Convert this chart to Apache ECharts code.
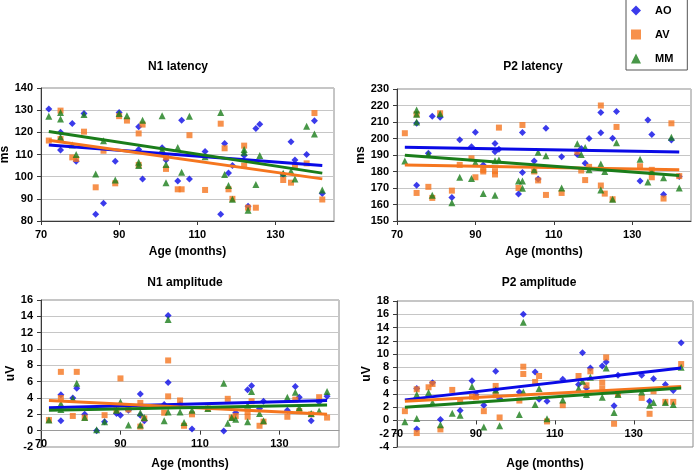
<!DOCTYPE html>
<html>
<head>
<meta charset="utf-8">
<script src="https://cdn.jsdelivr.net/npm/echarts@6/dist/echarts.min.js"></script>
<style>
  html, body { margin: 0; padding: 0; background: #fff; }
  #chart { width: 697px; height: 470px; }
</style>
</head>
<body>
<div id="chart"></div>
<script>
// [age, value] pairs
const n1LatAO = [[72,130.5],[75,120],[75,112],[78,124],[79,107],[81,128.5],[84,83],[86,88],[89,107],[90,129],[95,122.5],[95,112.3],[96,99],[101,113],[102,107.5],[105,98],[106,125.5],[108,99],[112,111.3],[116,83],[117,115],[118,101.6],[119,105],[122,109.5],[123,86.7],[125,121.7],[126,123.7],[132,101],[134,115.7],[135,107.5],[138,110],[140,125.2],[142,92.4]];
const n1LatAV = [[72,116.3],[75,129.8],[75,117],[78,108.7],[79,108],[81,120.3],[84,95.2],[86,111.7],[89,97],[90,127.3],[92,125.3],[95,119.5],[95,105.3],[96,123.5],[102,108.7],[102,103.5],[105,94.3],[106,94.3],[108,118.7],[112,94],[116,123.9],[117,112.8],[118,94.3],[119,90],[122,114],[122,105],[123,86],[125,86],[132,98.5],[134,97.3],[135,104.6],[138,106],[140,128.7],[142,89.7]];
const n1LatMM = [[72,127.2],[75,129],[75,126],[75,117.8],[78,114.3],[79,110],[81,128],[84,101.2],[86,116.2],[89,98.5],[90,128.5],[92,127.5],[95,106.5],[95,105],[96,125.5],[101,127.5],[101,112.3],[102,105.5],[102,97.2],[105,113.2],[106,102],[108,127.2],[112,109],[116,129],[117,101],[118,96],[119,89.8],[122,112.2],[122,111],[123,84.8],[125,96.5],[126,109.5],[132,101.5],[134,102.5],[135,98.9],[138,122.8],[140,119.2],[142,94]];

const p2LatAO = [[75,209.3],[75,171.6],[78,191],[79,213.5],[81,212.9],[84,164.2],[86,199.3],[89,195],[90,203.8],[92,184],[95,197],[95,192],[96,193.5],[101,166.3],[102,203.6],[102,179.4],[105,186.3],[106,175.5],[108,206.2],[112,189],[116,190.3],[117,194],[118,185],[119,200],[122,215.8],[122,203.5],[125,200.1],[126,216.3],[132,174.2],[134,211.2],[135,202.5],[138,166],[140,199.1],[142,177]];
const p2LatAV = [[72,203.2],[75,214.7],[75,167],[78,170.7],[79,164],[81,215.3],[84,168.4],[86,184],[89,188],[90,176.5],[92,181],[92,180],[95,180.2],[95,178.2],[96,206.6],[101,170],[102,208.2],[105,180],[106,174.6],[108,165.8],[112,167],[116,192],[117,180.6],[118,174.8],[119,182.8],[122,220],[122,171.5],[123,166.6],[125,163.2],[126,207],[132,183.2],[135,181],[135,176.5],[138,163.6],[140,209.2],[142,177.2]];
const p2LatMM = [[72,186.3],[75,217.3],[75,214.7],[75,210],[78,190.5],[79,165.6],[81,215],[84,161],[86,176.5],[89,175.7],[90,185.5],[92,166.6],[95,186.5],[95,165.6],[96,187],[101,174.3],[102,174.3],[102,169.8],[105,181],[106,191.7],[108,189.6],[112,170],[116,196.8],[117,190.3],[118,194.6],[119,181],[122,184.6],[122,168.8],[123,180],[125,163.2],[126,197.5],[132,187.5],[134,173.7],[135,180],[138,176.2],[140,200.8],[142,170]];

const n1AmpAO = [[75,4.4],[75,1.2],[78,4.0],[79,5.2],[81,2.0],[84,0],[86,1.1],[89,2.1],[90,1.9],[92,2.5],[95,4.5],[95,1.9],[96,1.2],[101,3.2],[102,14.1],[102,5.9],[105,3.2],[108,0.2],[116,-0.05],[119,2.2],[122,5.0],[123,5.5],[125,2.7],[126,3.6],[132,2.5],[134,5.4],[135,4.1],[138,1.2],[140,3.5],[142,4.2]];
const n1AmpAV = [[72,1.3],[75,7.2],[75,4.0],[78,1.8],[79,7.2],[81,1.6],[86,1.9],[89,2.5],[90,6.4],[92,2.6],[95,3.4],[95,0.5],[96,1.5],[101,2.2],[102,8.6],[102,4.2],[105,3.7],[106,0.6],[108,2.0],[112,2.7],[117,3.9],[118,1.6],[119,1.8],[122,2.3],[122,1.7],[123,3.6],[125,0.6],[126,1.1],[132,1.7],[134,3.8],[135,2.4],[138,2.0],[140,4.1],[142,1.6]];
const n1AmpMM = [[72,1.3],[75,3.3],[75,2.6],[78,3.9],[79,5.8],[81,1.6],[84,0.1],[86,1.1],[89,2.5],[90,3.5],[92,0.7],[95,2.2],[95,0.7],[96,1.6],[101,1.2],[102,13.6],[102,2.3],[105,2.3],[106,1.0],[108,2.5],[112,2.7],[116,5.8],[117,0.9],[118,1.6],[119,1.4],[122,3.1],[122,1.1],[123,4.8],[125,2.1],[126,1.2],[132,4.1],[134,4.7],[135,2.8],[138,2.1],[140,2.4],[142,4.8]];

const p2AmpAO = [[75,4.8],[75,-1.3],[79,5.7],[81,0.15],[86,1.5],[89,6.0],[90,3.9],[92,2.3],[95,7.4],[95,4.6],[96,3.3],[101,4.3],[102,16.0],[105,7.3],[106,3.2],[108,2.9],[112,6.2],[116,5.4],[117,10.2],[118,4.9],[119,7.9],[122,8.2],[123,8.8],[125,2.2],[126,6.8],[132,6.8],[134,2.9],[135,6.3],[138,5.4],[140,4.5],[142,11.7]];
const p2AmpAV = [[72,1.4],[75,4.7],[75,-1.9],[78,5.0],[79,5.5],[81,-1.35],[84,4.6],[86,3.0],[89,3.6],[90,3.5],[92,1.4],[95,5.2],[95,3.8],[96,0.45],[101,3.0],[102,8.1],[102,7.0],[105,5.8],[106,6.7],[108,-0.15],[112,2.3],[116,6.7],[118,5.3],[119,7.4],[122,5.7],[122,4.8],[123,9.5],[125,-0.5],[126,4.0],[132,3.4],[134,1.0],[135,4.4],[138,2.8],[140,2.8],[142,8.5]];
const p2AmpMM = [[72,-0.2],[75,3.9],[75,0.3],[78,4.2],[79,2.7],[81,-0.65],[84,1.1],[86,0.8],[89,5.1],[92,-1.0],[95,4.6],[96,-0.8],[101,0.9],[102,14.8],[102,4.3],[105,2.4],[106,4.8],[108,0.25],[112,3.1],[116,4.8],[117,5.9],[118,3.9],[119,6.5],[122,3.5],[123,7.9],[125,1.2],[126,3.9],[132,4.3],[134,2.3],[135,2.7],[138,2.7],[140,2.4],[142,8.0]];

// linear trend lines: value at first and last age
const trendAges = [72, 142];
const n1LatTrend = { AO: [114.3, 105], AV: [116.4, 99], MM: [120.4, 101.6] };
const p2LatTrend = { AO: [194.7, 191.8], AV: [183.9, 181], MM: [189.8, 177.6] };
const n1AmpTrend = { AO: [2.8, 3.7], AV: [3.7, 2.0], MM: [2.5, 3.15] };
const p2AmpTrend = { AO: [3.1, 7.9], AV: [2.9, 5.1], MM: [2.0, 4.9] };

const ageTicks = [70, 90, 110, 130];
const groups = ['AO', 'AV', 'MM'];

const FONT = 'Liberation Sans, Arial, sans-serif';
const colors = { AO: '#0a0ae6', AV: '#f5761f', MM: '#1a7d1a' };
const symbols = { AO: 'diamond', AV: 'rect', MM: 'triangle' };
const symbolSizes = { AO: 7, AV: 6, MM: 7 };

const panels = [
  { title: 'N1 latency', yName: 'ms', min: 80, max: 140, interval: 10,
    data: { AO: n1LatAO, AV: n1LatAV, MM: n1LatMM }, trend: n1LatTrend,
    grid: { left: 41, top: 88, width: 293, height: 133 },
    titlePos: [178, 67], xNameGap: 25, yNameGap: 29 },
  { title: 'P2 latency', yName: 'ms', min: 150, max: 230, interval: 10,
    data: { AO: p2LatAO, AV: p2LatAV, MM: p2LatMM }, trend: p2LatTrend,
    grid: { left: 397, top: 89, width: 294, height: 132 },
    titlePos: [533, 67], xNameGap: 25, yNameGap: 27 },
  { title: 'N1 amplitude', yName: 'uV', min: -2, max: 16, interval: 2,
    data: { AO: n1AmpAO, AV: n1AmpAV, MM: n1AmpMM }, trend: n1AmpTrend,
    grid: { left: 41, top: 300, width: 298, height: 147 },
    titlePos: [185, 283], xNameGap: 27, yNameGap: 22 },
  { title: 'P2 amplitude', yName: 'uV', min: -4, max: 18, interval: 2,
    data: { AO: p2AmpAO, AV: p2AmpAV, MM: p2AmpMM }, trend: p2AmpTrend,
    grid: { left: 397, top: 301, width: 296, height: 146 },
    titlePos: [539, 283], xNameGap: 37, yNameGap: 22 },
];

const labelStyle = { fontFamily: FONT, fontWeight: 'bold', fontSize: 11, color: '#000' };
const nameStyle = { fontFamily: FONT, fontWeight: 'bold', fontSize: 12, color: '#000' };

const grids = [], xAxes = [], yAxes = [], series = [], graphics = [];

panels.forEach((p, i) => {
  grids.push({ ...p.grid, show: true, borderColor: '#8c8c8c', borderWidth: 1, outerBoundsMode: 'none' });

  // when the y range goes below zero, the age axis crosses at y = 0 (labels move with it)
  const crossesZero = p.min < 0;
  const zeroLift = crossesZero ? (0 - p.min) / (p.max - p.min) * p.grid.height : 0;

  xAxes.push({
    gridIndex: i, type: 'value', min: 70, max: 145, interval: 20,
    offset: -zeroLift,
    axisLine: { onZero: false, lineStyle: { color: crossesZero ? '#9a9a9a' : '#3a3a3a', width: 1 } },
    axisTick: { show: true, length: 4, customValues: ageTicks, lineStyle: { color: '#3a3a3a' } },
    axisLabel: { ...labelStyle, margin: 8, customValues: ageTicks },
    splitLine: { show: false },
    name: 'Age (months)', nameLocation: 'middle', nameGap: p.xNameGap, nameTextStyle: nameStyle,
  });

  yAxes.push({
    gridIndex: i, type: 'value', min: p.min, max: p.max, interval: p.interval,
    axisLine: { show: true, onZero: false, lineStyle: { color: '#3a3a3a', width: 1 } },
    axisTick: { show: true, length: 4, lineStyle: { color: '#3a3a3a' } },
    axisLabel: { ...labelStyle, margin: 8 },
    splitLine: { show: true, lineStyle: { color: '#c6c6c6', width: 1 } },
    name: p.yName, nameLocation: 'middle', nameGap: p.yNameGap, nameTextStyle: nameStyle,
  });

  groups.forEach((g) => {
    series.push({
      type: 'scatter', name: g, xAxisIndex: i, yAxisIndex: i,
      symbol: symbols[g], symbolSize: symbolSizes[g],
      itemStyle: { color: colors[g] },
      data: p.data[g], z: 2,
    });
  });

  groups.forEach((g) => {
    series.push({
      type: 'line', name: g + ' trend', xAxisIndex: i, yAxisIndex: i,
      data: trendAges.map((a, k) => [a, p.trend[g][k]]),
      symbol: 'none', silent: true,
      lineStyle: { color: colors[g], width: 3 }, z: 3,
    });
  });

  graphics.push({
    type: 'text', x: p.titlePos[0], y: p.titlePos[1],
    style: { text: p.title, font: 'bold 12px ' + FONT, fill: '#000', align: 'center', verticalAlign: 'middle' },
  });
});

const chart = echarts.init(document.getElementById('chart'));
chart.setOption({
  animation: false,
  backgroundColor: '#fff',
  legend: {
    orient: 'vertical', left: 626, top: -1,
    padding: [6, 14, 6, 5], itemGap: 13, itemWidth: 10, itemHeight: 10,
    borderColor: '#555', borderWidth: 1, backgroundColor: '#fff',
    textStyle: { ...labelStyle, padding: [0, 0, 0, 9] },
    data: groups.map((g) => ({ name: g, icon: symbols[g] })),
  },
  grid: grids,
  xAxis: xAxes,
  yAxis: yAxes,
  series: series,
  graphic: graphics,
});
</script>
</body>
</html>
